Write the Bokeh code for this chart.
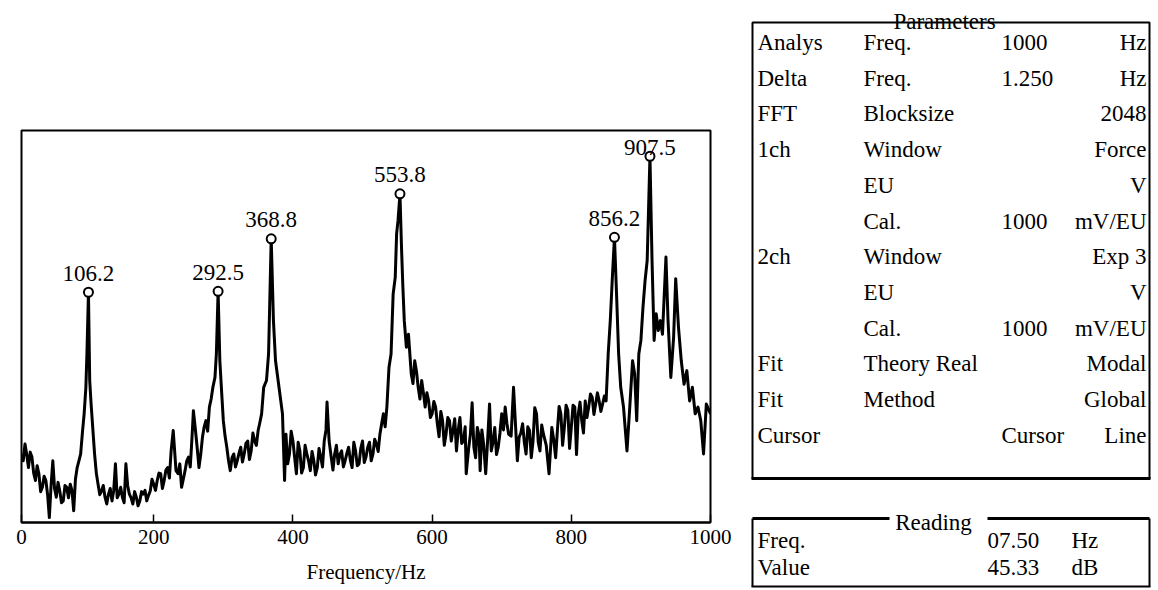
from bokeh.plotting import figure
from bokeh.models import Range1d, FixedTicker
from bokeh.layouts import row
from bokeh.embed import file_html
from bokeh.resources import INLINE
from bokeh.core.properties import value

# ---------------- data ----------------
# main trace points (Hz, dB)
freq_hz = [
    10, 15, 20, 25, 30, 35, 40, 45, 50, 55, 60, 65, 70, 75, 80, 85, 90, 95, 100, 102.5,
    104, 106.2, 108, 110, 115, 120, 125, 130, 135, 140, 145, 150, 155, 160, 165, 170, 175, 180, 185, 190,
    195, 200, 205, 210, 215, 220, 225, 228, 232, 235, 240, 245, 250, 255, 257, 260, 265, 270, 275, 280,
    285, 288, 290, 292.5, 295, 298, 300, 305, 310, 315, 320, 325, 330, 335, 340, 345, 350, 355, 358, 362,
    365, 368.8, 372, 375, 380, 385, 388, 390, 395, 400, 405, 410, 415, 420, 425, 430, 435, 440, 445, 449,
    452, 455, 460, 465, 470, 475, 480, 485, 490, 495, 500, 505, 510,
    515, 520, 525, 530, 535, 538, 541, 544, 547, 549, 551, 553.8, 556, 558, 560, 563, 566, 570, 575, 580,
    585, 590, 595, 600, 605, 610, 615, 620, 625, 630, 635, 640, 645, 649, 655, 660, 665, 669, 674, 677,
    680, 685, 690, 695, 700, 705, 710, 717, 720, 725, 730, 735, 740, 745, 750, 755, 760, 768, 772, 775,
    780, 785, 790, 795, 800, 805, 810, 815, 820, 825, 830, 835, 840, 845, 850, 853, 856, 859, 862, 865,
    868, 871, 875, 880, 884, 888, 891, 894, 897, 900, 903, 906, 909, 913, 916, 919, 922, 925, 928, 931,
    936, 939, 943, 947, 950, 954, 958, 962, 966, 970, 974, 978, 982, 986, 990, 994, 1000,
]
level_db = [
    -2.9, -1.3, -5.1, -3.4, -7.2, -6.1, -8.3, -7.2, -13.2, -4.0, -9.9, -8.9, -10.5, -8.3, -7.8, -12.1, -5.1, -2.9, 3.6, 7.9,
    13.3, 23.3, 9.0, 5.2, -2.9, -7.8, -8.9, -9.9, -9.4, -10.5, -4.5, -9.4, -9.9, -4.5, -9.4, -11.0, -9.9, -10.5, -9.4, -10.5,
    -8.9, -7.8, -7.2, -6.1, -7.2, -5.1, -2.4, 0.9, -5.6, -6.1, -8.3, -5.6, -3.4, -0.2, 4.1, 0.9, -5.1, -0.2, 2.5, 4.7,
    7.9, 9.5, 13.3, 23.45, 12.2, 6.3, 2.5, -1.8, -5.6, -2.9, -4.0, -1.8, -2.9, -0.8, -2.4, -0.8, 0.9, 3.6, 7.9, 9.0,
    13.3, 31.95, 18.7, 12.2, 7.9, 3.6, -7.2, 0.3, -2.9, -0.8, -6.1, -2.4, -5.1, -2.9, -5.6, -4.0, -5.1, -3.4, -0.8, 5.5,
    -0.8, -3.4, -2.9, -4.5, -2.4, -4.0, -1.8, -5.1, -2.4, -4.5, -0.8, -3.4, -1.0,
    -2.9, -1.3, 0.3, 3.6, 4.7, 11.1, 13.3, 23.0, 25.7, 32.8, 34.9, 39.24, 30.6, 24.1, 18.7, 14.4, 16.5, 10.1, 12.2, 7.9,
    9.0, 4.7, 5.7, 3.6, 4.7, -0.1, 2.5, 0.3, 2.5, 0.9, -2.4, 3.0, -0.8, -6.1, 0.3, -1.8, 1.4, -5.6, -1.3, -6.1,
    -0.2, -2.4, 1.4, -1.8, 3.6, 4.7, 0.3, 7.9, 1.4, -0.2, 2.0, -2.9, 0.9, -0.8, 3.6, -2.4, 0.3, -6.1, 1.4, -0.8,
    0.9, 3.6, 1.4, 4.2, 1.4, 4.7, 3.6, 2.5, 5.7, 4.7, 6.3, 5.2, 5.7, 5.2, 5.7, 13.3, 18.7, 25.7, 32.2, 23.0,
    13.3, 7.9, 4.7, -2.4, 4.7, 12.2, 10.1, 2.5, 13.3, 15.5, 20.9, 25.2, 28.4, 45.33, 28.4, 15.5, 19.8, 17.1, 18.7, 16.5,
    29.0, 18.7, 9.5, 16.0, 25.5, 17.6, 12.2, 8.4, 10.6, 5.7, 7.9, 3.6, 4.7, 2.5, -2.9, 5.2, 3.6,
]

band_freq_hz = [
    12.5, 17.5, 22.5, 27.5, 32.5, 37.5, 42.5, 47.5, 52.5, 57.5, 62.5, 67.5, 72.5, 77.5, 82.5, 87.5, 92.5, 97.5,
    117.5, 122.5, 127.5, 132.5, 137.5, 142.5, 147.5, 152.5, 157.5, 162.5, 167.5, 172.5, 177.5, 182.5, 187.5,
    192.5, 197.5, 202.5, 207.5, 212.5, 217.5, 222.5,
    237.5, 242.5, 247.5, 252.5, 262.5, 267.5, 272.5, 277.5, 282.5,
    302.5, 307.5, 312.5, 317.5, 322.5, 327.5, 332.5, 337.5, 342.5, 347.5, 352.5,
    392.5, 397.5, 402.5, 407.5, 412.5, 417.5, 422.5, 427.5, 432.5, 437.5, 442.5, 447.5, 457.5, 462.5, 467.5,
    472.5, 477.5, 482.5, 487.5, 492.5, 497.5, 502.5, 507.5, 512.5, 517.5, 522.5, 527.5, 532.5,
    572.5, 577.5, 582.5, 587.5, 592.5, 597.5, 602.5, 607.5, 612.5, 617.5, 622.5, 627.5, 632.5, 637.5, 642.5,
    647.5, 652.5, 657.5, 662.5, 667.5, 671.5, 682.5, 687.5, 692.5, 697.5, 702.5, 707.5, 713.5, 722.5, 727.5,
    732.5, 737.5, 742.5, 747.5, 752.5, 757.5, 764, 777.5, 782.5, 787.5, 792.5, 797.5, 802.5, 807.5, 812.5,
    817.5, 822.5, 827.5, 832.5, 837.5, 842.5, 847.5,
]
band_level_db = [
    -4.0, -3.0, -2.6, -6.0, -4.8, -9.0, -6.5, -9.5, -8.0, -8.5, -7.5, -10.8, -8.0, -10.0, -8.8, -7.0, -4.0, 0.5,
    -6.0, -9.5, -8.0, -11.0, -8.5, -8.8, -10.0, -8.3, -10.8, -8.0, -10.0, -9.0, -11.3, -9.0, -8.8,
    -9.6, -7.0, -8.8, -6.0, -8.5, -5.5, -6.8,
    -4.5, -7.0, -4.0, -5.0, -2.0, -3.0, 1.5, 0.8, 6.0,
    0.0, -4.0, -3.5, -5.0, -2.8, -4.2, -1.2, -3.8, 0.5, -1.5, 2.2,
    -4.5, 0.8, -3.5, -1.0, -6.0, -1.5, -4.0, -2.5, -6.3, -2.0, -5.0, 1.0, -5.5, -1.5, -3.0,
    -5.0, -2.8, -3.9, -1.0, -4.8, -2.0, -4.3, -1.8, -4.0, -0.5, -2.5, 2.0, 1.5,
    8.5, 10.5, 6.0, 7.0, 7.0, 3.0, 5.6, 2.0, 4.0, -1.5, 3.0, -0.8, 2.8, 1.0, -1.2,
    1.5, -2.0, 5.4, -3.5, 0.0, 1.0, 5.2, -1.0, -3.0, 0.5, 1.0, 2.0, 0.0, -4.0, 0.5,
    -1.0, 1.5, -3.5, 4.6, -1.0, 1.8, -1.5, -3.5, 4.8, -1.5, 5.0, -2.0, 5.0, -3.0, 5.5,
    0.5, 3.0, 6.8, 3.5, 7.0, 4.0, 6.5,
]

peak_freq = [106.2, 292.5, 368.8, 553.8, 862.0, 913.0]
peak_db = [23.3, 23.45, 31.95, 39.24, 32.2, 45.33]
peak_labels = ["106.2", "292.5", "368.8", "553.8", "856.2", "907.5"]

x_ticks = [10, 200, 400, 600, 800, 1000]
x_tick_labels = ["0", "200", "400", "600", "800", "1000"]
x_title = "Frequency/Hz"

param_title = "Parameters"
param_col1 = ["Analys", "Delta", "FFT", "1ch", "", "", "2ch", "", "", "Fit", "Fit", "Cursor"]
param_col2 = ["Freq.", "Freq.", "Blocksize", "Window", "EU", "Cal.", "Window", "EU", "Cal.", "Theory Real", "Method", ""]
param_col3 = ["1000", "1.250", "", "", "", "1000", "", "", "1000", "", "", "Cursor"]
param_col4 = ["Hz", "Hz", "2048", "Force", "V", "mV/EU", "Exp 3", "V", "mV/EU", "Modal", "Global", "Line"]

reading_title = "Reading"
reading_col1 = ["Freq.", "Value"]
reading_col2 = ["07.50", "45.33"]
reading_col3 = ["Hz", "dB"]

# ---------------- style ----------------
FONT = "Liberation Serif"
Y_LO, Y_HI = -14, 49.5
FRAME_H = 392


def no_align(fig):
    if "frame_align" in fig.properties():
        fig.frame_align = False


trace = sorted(zip(freq_hz + band_freq_hz, level_db + band_level_db))
trace_f = [t[0] for t in trace]
trace_db = [t[1] for t in trace]

# ---------------- spectrum ----------------
p = figure(width=733, height=590, x_range=Range1d(10, 1000), y_range=Range1d(Y_LO, Y_HI),
           output_backend="svg", toolbar_location=None, y_axis_location=None,
           min_border_left=21, min_border_right=23, min_border_top=130, min_border_bottom=68)
no_align(p)
p.grid.visible = False
p.outline_line_color = "black"
p.outline_line_width = 2
p.outline_line_alpha = 1
p.background_fill_color = "white"
p.border_fill_color = "white"

ax = p.xaxis[0]
ax.ticker = FixedTicker(ticks=x_ticks)
ax.major_label_overrides = {t: l for t, l in zip(x_ticks, x_tick_labels)}
ax.axis_line_color = "black"
ax.axis_line_width = 2
ax.major_tick_in = 8
ax.major_tick_out = 0
ax.major_tick_line_width = 1.5
ax.minor_tick_line_color = None
ax.major_label_text_font = FONT
ax.major_label_text_font_size = "21px"
ax.major_label_text_color = "black"
ax.major_label_standoff = 7
ax.axis_label = x_title
ax.axis_label_text_font = FONT
ax.axis_label_text_font_style = "normal"
ax.axis_label_text_font_size = "21px"
ax.axis_label_text_color = "black"
ax.axis_label_standoff = 13

p.line(trace_f, trace_db, line_color="black", line_width=3, line_join="round")
p.scatter(peak_freq, peak_db, marker="circle", size=9, fill_color="white",
          line_color="black", line_width=2)

px_per_db = FRAME_H / (Y_HI - Y_LO)
label_y = [min(d + 19 / px_per_db, Y_HI - 17 / px_per_db) for d in peak_db]
p.text(x=peak_freq, y=label_y, text=peak_labels, text_align="center",
       text_baseline="alphabetic", text_font=value(FONT), text_font_size="23px",
       text_color="black")

# ---------------- parameter / reading panel ----------------
q = figure(width=425, height=590, x_range=Range1d(733, 1158), y_range=Range1d(590, 0),
           output_backend="svg", toolbar_location=None, min_border=0,
           x_axis_location=None, y_axis_location=None)
no_align(q)
q.grid.visible = False
q.outline_line_color = None

# Parameters box
q.quad(left=[752], right=[1149], top=[22], bottom=[478], fill_color=None,
       line_color="black", line_width=2)
q.segment(x0=[751], y0=[478], x1=[1150], y1=[478], line_color="black", line_width=3)
q.text(x=[944], y=[21], text=[param_title], text_align="center", text_baseline="alphabetic",
       text_font=value(FONT), text_font_size="23px", text_color="black")

n = len(param_col1)
row_y = [42 + i * 35.7 for i in range(n)]
common = dict(text_baseline="middle", text_font=value(FONT), text_font_size="23px", text_color="black")
q.text(x=[757] * n, y=row_y, text=param_col1, text_align="left", **common)
q.text(x=[863] * n, y=row_y, text=param_col2, text_align="left", **common)
q.text(x=[1001] * n, y=row_y, text=param_col3, text_align="left", **common)
q.text(x=[1146] * n, y=row_y, text=param_col4, text_align="right", **common)

# Reading box
rt, rb, rl, rr = 518, 586, 752, 1149
q.segment(x0=[rl, rr, rl - 1, rl, 987], y0=[rt, rt, rb, rt, rt],
          x1=[rl, rr, rr + 1, 889, rr], y1=[rb, rb, rb, rt, rt],
          line_color="black", line_width=[2, 2, 2, 3, 3])
q.text(x=[933], y=[522], text=[reading_title], text_align="center", text_baseline="alphabetic",
       text_font=value(FONT), text_font_size="23px", text_color="black")
m = len(reading_col1)
ry = [540 + i * 26.7 for i in range(m)]
q.text(x=[757] * m, y=ry, text=reading_col1, text_align="left", **common)
q.text(x=[987] * m, y=ry, text=reading_col2, text_align="left", **common)
q.text(x=[1071] * m, y=ry, text=reading_col3, text_align="left", **common)

layout = row(p, q, spacing=0)
open("out.html", "w").write(file_html(layout, INLINE))
